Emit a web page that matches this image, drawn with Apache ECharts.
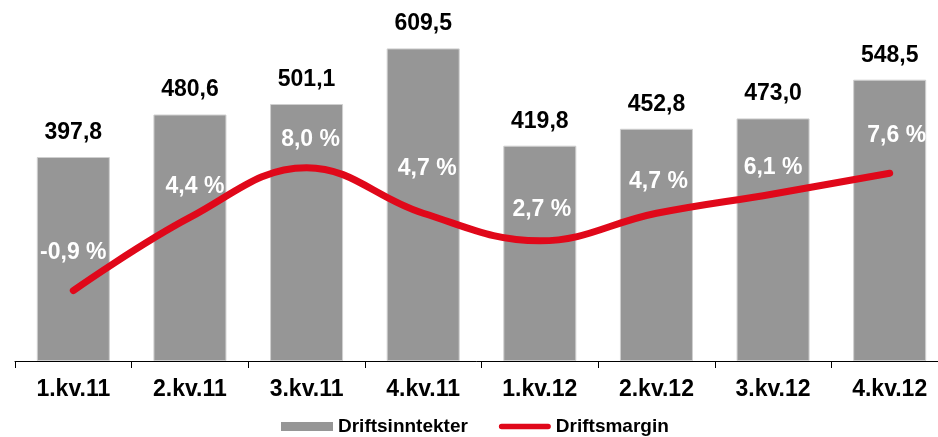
<!DOCTYPE html>
<html>
<head>
<meta charset="utf-8">
<script src="https://cdn.jsdelivr.net/npm/echarts@6/dist/echarts.min.js"></script>
<style>
html,body{margin:0;padding:0;background:#fff;}
#chart{width:938px;height:437px;}
</style>
</head>
<body>
<div id="chart"></div>
<script>
var categories = ['1.kv.11','2.kv.11','3.kv.11','4.kv.11','1.kv.12','2.kv.12','3.kv.12','4.kv.12'];
var driftsinntekter = [397.8, 480.6, 501.1, 609.5, 419.8, 452.8, 473.0, 548.5];
var driftsmargin = [-0.9, 4.4, 8.0, 4.7, 2.7, 4.7, 6.1, 7.6];
var seriesNames = ['Driftsinntekter', 'Driftsmargin'];

// label placement offsets for the margin labels (style only)
var marginLabelOffsets = [[0,-38],[5,-31],[4,-28],[4,-45],[2,-31],[2,-32],[0,-26],[7,-38]];

var FONT = '"Liberation Sans", Arial, sans-serif';
var RED = '#e0081a';
var GRAY = '#969696';
function fmt(v){ return v.toFixed(1).replace('.', ','); }

var chart = echarts.init(document.getElementById('chart'), null, {renderer:'canvas'});
chart.setOption({
  animation: false,
  backgroundColor: '#ffffff',
  textStyle: { fontFamily: FONT },
  grid: { left: 15, top: 2, width: 933, height: 359, containLabel: false, outerBoundsMode: 'none' },
  legend: {
    left: 281, top: 417, padding: 0,
    itemWidth: 52, itemHeight: 9, itemGap: 31,
    textStyle: { fontFamily: FONT, fontSize: 19, fontWeight: 'bold', color: '#000' },
    data: [
      { name: seriesNames[0], icon: 'rect', itemStyle: { color: GRAY, borderWidth: 0 } },
      { name: seriesNames[1], icon: 'path://M3,0H53A3,3,0,0,1,53,6H3A3,3,0,0,1,3,0Z', itemStyle: { color: RED, borderWidth: 0 } }
    ]
  },
  xAxis: {
    type: 'category',
    data: categories,
    axisLine: { show: true, lineStyle: { color: '#000', width: 1 } },
    axisTick: { show: true, length: 7, lineStyle: { color: '#000' } },
    axisLabel: { margin: 17, fontSize: 23, fontWeight: 'bold', color: '#000', fontFamily: FONT, interval: 0 },
    splitLine: { show: false }
  },
  yAxis: [
    { type: 'value', min: 0, max: 700, show: false, splitLine: { show: false } },
    { type: 'value', min: -6, max: 20, show: false, splitLine: { show: false } }
  ],
  series: [
    {
      name: seriesNames[0],
      type: 'bar',
      yAxisIndex: 0,
      barWidth: 73,
      data: driftsinntekter,
      itemStyle: { color: GRAY, borderColor: '#cfcfcf', borderWidth: 1 },
      label: {
        show: true, position: 'top', distance: 13,
        fontSize: 23, fontWeight: 'bold', color: '#000', fontFamily: FONT,
        formatter: function(p){ return fmt(p.value); }
      },
      z: 2
    },
    {
      name: seriesNames[1],
      type: 'line',
      yAxisIndex: 1,
      smooth: 0.4,
      symbol: 'circle',
      symbolSize: 1,
      showSymbol: true,
      lineStyle: { color: RED, width: 7, cap: 'round', join: 'round' },
      itemStyle: { color: RED },
      data: driftsmargin,
      label: {
        show: true, position: 'inside',
        fontSize: 23, fontWeight: 'bold', color: '#ffffff', fontFamily: FONT,
        formatter: function(p){ return fmt(p.value) + ' %'; }
      },
      labelLayout: function(params){
        var o = marginLabelOffsets[params.dataIndex] || [0, 0];
        return { dx: o[0], dy: o[1], hideOverlap: false };
      },
      z: 3
    }
  ]
});
</script>
</body>
</html>
